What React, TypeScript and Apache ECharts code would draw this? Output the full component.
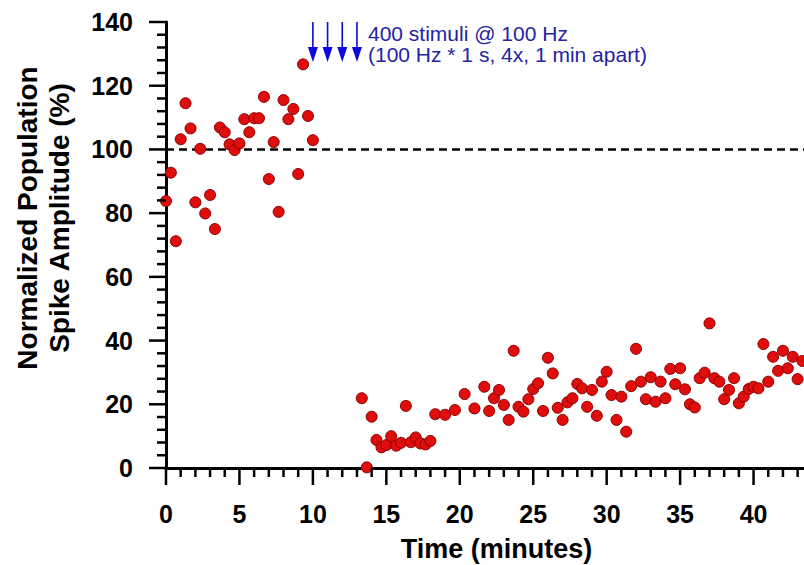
import React, { useEffect, useRef } from "react";
import * as echarts from "echarts";

const baselineTime = [0, 0.33, 0.67, 1, 1.33, 1.67, 2, 2.33, 2.67, 3, 3.33, 3.67, 4, 4.33, 4.67, 5, 5.33, 5.67, 6, 6.33, 6.67, 7, 7.33, 7.67, 8, 8.33, 8.67, 9, 9.33, 9.67, 10];
const baselineAmp = [83.8, 92.7, 71.2, 103.2, 114.5, 106.6, 83.4, 100.2, 79.9, 85.7, 75.0, 106.9, 105.4, 101.6, 99.8, 101.9, 109.5, 105.4, 109.8, 109.8, 116.5, 90.7, 102.3, 80.4, 115.5, 109.5, 112.7, 92.3, 126.7, 110.5, 102.9];

const postTime = [13.33, 13.67, 14, 14.33, 14.67, 15, 15.33, 15.67, 16, 16.33, 16.67, 17, 17.33, 17.67, 18, 18.33, 19, 19.67, 20.33, 21, 21.67, 22, 22.33, 22.67, 23, 23.33, 23.67, 24, 24.33, 24.67, 25, 25.33, 25.67, 26, 26.33, 26.67, 27, 27.33, 27.67, 28, 28.33, 28.67, 29, 29.33, 29.67, 30, 30.33, 30.67, 31, 31.33, 31.67, 32, 32.33, 32.67, 33, 33.33, 33.67, 34, 34.33, 34.67, 35, 35.33, 35.67, 36, 36.33, 36.67, 37, 37.33, 37.67, 38, 38.33, 38.67, 39, 39.33, 39.67, 40, 40.33, 40.67, 41, 41.33, 41.67, 42, 42.33, 42.67, 43, 43.33];
const postAmp = [21.9, 0.2, 16.1, 8.8, 6.5, 7.2, 10.0, 7.0, 7.9, 19.5, 8.1, 9.6, 7.7, 7.4, 8.5, 16.9, 16.7, 18.2, 23.2, 18.7, 25.5, 17.9, 21.9, 24.5, 19.8, 15.1, 36.8, 19.2, 17.7, 21.6, 24.8, 26.6, 17.9, 34.6, 29.7, 18.9, 15.1, 20.6, 21.9, 26.4, 25.0, 19.2, 24.5, 16.4, 27.1, 30.2, 22.9, 15.1, 22.4, 11.4, 25.7, 37.4, 27.1, 21.6, 28.5, 20.8, 27.1, 21.9, 31.1, 26.3, 31.3, 24.7, 20.0, 19.0, 28.2, 29.9, 45.4, 28.2, 27.1, 21.6, 24.5, 28.2, 20.3, 22.4, 24.8, 25.5, 25.0, 38.9, 27.1, 34.9, 30.5, 36.8, 31.3, 34.9, 27.9, 33.6];

const stimulusTimes = [10, 11, 12, 13];
const arrowTop = 140;
const arrowEnd = 129.8;
const referenceLevel = 100;

const xRange = { min: 0, max: 45 };
const yRange = { min: 0, max: 140 };
const xMajor = 5;
const xMinor = 1;
const yMajor = 20;
const yMinor = 4;
const MAJOR_LEN = 17;
const MINOR_LEN = 9;

const annotationText = "400 stimuli @ 100 Hz\n(100 Hz * 1 s, 4x, 1 min apart)";
const xTitle = "Time (minutes)";
const yTitle = "Normalized Population\nSpike Amplitude (%)";

const FONT = "Liberation Sans, Arial, Helvetica, sans-serif";
const BLUE = "#0a0ae0";

function tickList(min: number, max: number, minor: number, major: number) {
  const out: number[][] = [];
  const n = Math.round((max - min) / minor);
  for (let i = 0; i <= n; i++) {
    const v = min + i * minor;
    const isMajor = Math.abs(v / major - Math.round(v / major)) < 1e-6;
    out.push([v, isMajor ? MAJOR_LEN : MINOR_LEN]);
  }
  return out;
}

export default function App() {
  const ref = useRef<HTMLDivElement>(null);
  useEffect(() => {
    if (!ref.current) return;
    const chart = echarts.init(ref.current, null, { renderer: "svg" });
    const points = [
      ...baselineTime.map((t, i) => [t, baselineAmp[i]]),
      ...postTime.map((t, i) => [t, postAmp[i]]),
    ];
    const xTickData = tickList(xRange.min, xRange.max, xMinor, xMajor).map(([v, len]) => [v, 0, len]);
    const yTickData = tickList(yRange.min, yRange.max, yMinor, yMajor).map(([v, len]) => [0, v, len]);
    const axisCommon = {
      axisLine: { show: true, lineStyle: { color: "#000", width: 3 } },
      axisTick: { show: false },
      minorTick: { show: false },
      splitLine: { show: false },
    };
    const labelCommon = { color: "#000", fontSize: 25, fontWeight: "bold", fontFamily: FONT, margin: 33 };
    const arrowShafts = stimulusTimes.map((t) => ({
      type: "line",
      data: [[t, arrowTop], [t, arrowEnd]],
      symbol: "none",
      silent: true,
      lineStyle: { color: BLUE, width: 1.6 },
      z: 3,
    }));
    chart.setOption({
      animation: false,
      title: {
        text: annotationText,
        left: 368,
        top: 23,
        padding: 0,
        textStyle: { color: "#2323a3", fontSize: 21, fontWeight: "normal", fontFamily: FONT, lineHeight: 21 },
      },
      grid: { left: 166, top: 22, height: 446, width: 661, outerBoundsMode: "none" },
      xAxis: {
        type: "value",
        ...xRange,
        interval: xMajor,
        ...axisCommon,
        axisLabel: { ...labelCommon, showMaxLabel: false },
        name: xTitle,
        nameLocation: "middle",
        nameGap: 66,
        nameTextStyle: { color: "#000", fontSize: 27, fontWeight: "bold", fontFamily: FONT, lineHeight: 30 },
      },
      yAxis: {
        type: "value",
        ...yRange,
        interval: yMajor,
        ...axisCommon,
        axisLabel: { ...labelCommon },
        name: yTitle,
        nameLocation: "middle",
        nameRotate: 90,
        nameGap: 91,
        nameTextStyle: { color: "#000", fontSize: 28, fontWeight: "bold", fontFamily: FONT, lineHeight: 32, padding: [0, 0, 0, 54] },
      },
      series: [
        {
          type: "line",
          data: [[xRange.min, referenceLevel], [xRange.max, referenceLevel]],
          symbol: "none",
          silent: true,
          lineStyle: { color: "#000", width: 2.5, type: [8, 5] },
          z: 1,
        },
        {
          type: "custom",
          silent: true,
          clip: false,
          data: xTickData,
          z: 5,
          renderItem: (params: any, api: any) => {
            const p = api.coord([api.value(0), yRange.min]);
            const len = api.value(2);
            return {
              type: "line",
              shape: { x1: p[0], y1: p[1], x2: p[0], y2: p[1] + len },
              style: { stroke: "#000", lineWidth: 2.5 },
            };
          },
        },
        {
          type: "custom",
          silent: true,
          clip: false,
          data: yTickData,
          z: 5,
          renderItem: (params: any, api: any) => {
            const p = api.coord([xRange.min, api.value(1)]);
            const len = api.value(2);
            return {
              type: "line",
              shape: { x1: p[0] - len, y1: p[1], x2: p[0], y2: p[1] },
              style: { stroke: "#000", lineWidth: 2.5 },
            };
          },
        },
        ...arrowShafts,
        {
          type: "scatter",
          data: stimulusTimes.map((t) => [t, arrowEnd]),
          symbol: "triangle",
          symbolRotate: 180,
          symbolSize: [10, 15],
          silent: true,
          itemStyle: { color: BLUE, opacity: 1 },
          z: 3,
        },
        {
          type: "scatter",
          data: points,
          symbol: "circle",
          symbolSize: 11,
          itemStyle: { color: "#e00d0d", borderColor: "#8a0000", borderWidth: 1, opacity: 1 },
          z: 4,
        },
      ],
    });
    return () => chart.dispose();
  }, []);
  return <div ref={ref} style={{ position: "fixed", left: 0, top: 0, width: 804, height: 565, background: "#fff" }} />;
}
